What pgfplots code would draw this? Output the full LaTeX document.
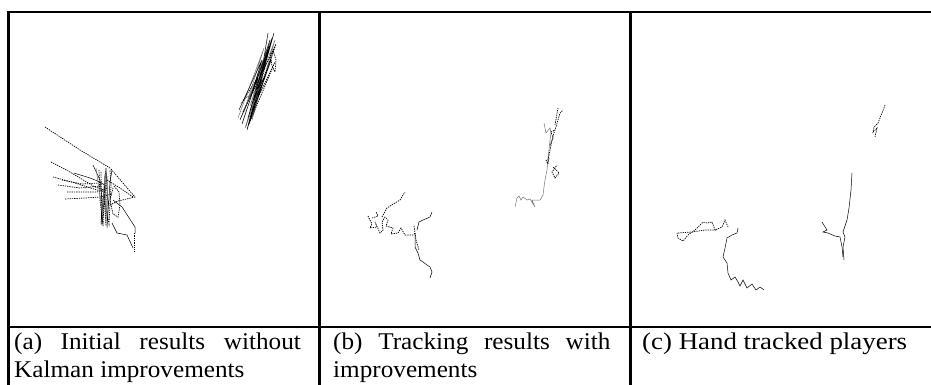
\documentclass[border=0pt]{standalone}
\usepackage{fontspec}
\setmainfont{Liberation Serif}
\usepackage{pgfplots}
\pgfplotsset{compat=1.18}
\begin{document}
\begin{tikzpicture}[x=1pt,y=1pt]
\path[use as bounding box] (0,0) rectangle (931,385);
\begin{axis}[at={(0,0)},anchor=south west, scale only axis, width=931pt, height=385pt,
  xmin=0,xmax=931,ymin=0,ymax=385, y dir=reverse, axis lines=none, clip=false,
  tr/.style={black, line width=0.5pt, mark=none},
  ds/.style={black, line width=0.7pt, dash pattern=on 1.3pt off 1pt, mark=none},
  gr/.style={black!55, line width=0.5pt, mark=none}]
% ---------------- panel (a) upper right cluster
\addplot[tr] coordinates {(242,124) (270,40) (248,118) (274,33) (252,112) (268,50) (246,126) (266,56) (240,120) (258,78) (254,96) (272,38) (256,100) (247,130) (262,70) (268,33)};
\addplot[gr] coordinates {(238,118) (264,48) (244,112) (270,42) (250,106) (275,40) (252,120) (262,80) (245,128) (260,88) (243,100)};
\addplot[ds] coordinates {(243,112) (276,44) (249,124) (275,62) (252,110) (273,52) (258,96) (271,60) (250,120) (266,64) (241,104)};
\addplot[ds] coordinates {(273,50) (276,60) (275,72) (272,66) (270,52)};
\addplot[tr] coordinates {(239,110) (262,60) (251,96) (269,46) (256,90) (264,78)};
% ---------------- panel (a) lower left cluster
\addplot[ds] coordinates {(45,127) (80,150) (110,168) (135,197) (118,201) (110,205)};
\addplot[ds] coordinates {(51,162) (70,172) (95,187) (104,190)};
\addplot[ds] coordinates {(53,177) (75,183) (97,190) (106,192)};
\addplot[ds] coordinates {(65,199) (85,198) (100,197) (112,194)};
\addplot[ds] coordinates {(67,192) (85,192) (97,192) (108,188)};
\addplot[ds] coordinates {(58,185) (80,188) (100,186)};
\addplot[ds] coordinates {(62,180) (82,184) (99,183)};
\addplot[tr] coordinates {(74,173) (90,178) (100,182) (106,186)};
\addplot[tr] coordinates {(93,165) (100,180) (102,200) (101,225) (104,190) (106,168) (108,205) (107,228) (110,182) (112,170)};
\addplot[ds] coordinates {(99,170) (100,200) (103,226) (105,176) (104,198) (109,224) (111,186) (110,170)};
\addplot[ds] coordinates {(101,172) (102,224) (106,180) (106,226) (104,196)};
\addplot[gr] coordinates {(96,168) (102,210) (105,174) (106,222) (108,176)};
\addplot[ds] coordinates {(114,186) (119,192) (120,205) (118,217) (113,214) (110,200) (113,188)};
\addplot[ds] coordinates {(107,180) (120,188) (133,197)};
\addplot[tr] coordinates {(113,200) (122,207) (135,227) (135,233)};
\addplot[ds] coordinates {(134,233) (134,252)};
\addplot[tr] coordinates {(112,223) (117,233) (127,235) (133,248)};
% ---------------- panel (b) right cluster
\addplot[gr] coordinates {(515,207) (517,198) (519,196) (521,200) (523,197) (527,200) (530,199) (535,207) (532,200) (540,200) (543,195) (544,187) (545,180) (547,170) (548,158) (549,150) (550,140) (551,133) (550,128) (546,133) (544,123)};
\addplot[ds] coordinates {(548,160) (550,150) (552,140) (554,133) (556,127) (558,120) (560,113) (563,110)};
\addplot[ds] coordinates {(555,125) (558,108)};
\addplot[ds] coordinates {(553,167) (559,173) (555,178) (552,172) (557,165)};
\addplot[ds] coordinates {(546,160) (548,164) (549,158)};
\addplot[ds] coordinates {(550,145) (553,138) (551,132) (555,130)};
% ---------------- panel (b) left cluster
\addplot[ds] coordinates {(368,216) (372,224) (370,228) (377,227) (375,222) (380,233) (383,230) (382,222) (385,217) (388,220) (386,226) (393,228) (391,234) (398,233) (401,228) (405,235) (413,235) (415,233)};
\addplot[ds] coordinates {(382,217) (387,208) (395,203) (400,200) (403,195) (405,192)};
\addplot[ds] coordinates {(372,218) (378,216) (376,212)};
\addplot[tr] coordinates {(415,233) (415,247) (418,253) (420,260) (423,262) (427,265) (430,267) (432,272) (430,278)};
\addplot[tr] coordinates {(417,230) (419,222) (423,220) (430,217) (432,212)};
\addplot[ds] coordinates {(414,226) (416,240) (419,250)};
% ---------------- panel (c)
\addplot[ds] coordinates {(885,105) (882,113) (878,123) (874,127) (873,132) (877,128) (875,137)};
\addplot[tr] coordinates {(852,173) (851,190) (849,208) (847,220) (843,232) (845,237) (843,247) (844,260)};
\addplot[tr] coordinates {(822,222) (827,230) (823,232) (828,233) (835,236) (840,237) (842,247) (843,257)};
\addplot[ds] coordinates {(677,233) (678,238) (683,241) (688,235) (695,230) (703,222) (707,223) (712,222) (715,230) (722,227) (725,220) (728,227)};
\addplot[ds] coordinates {(678,233) (692,232) (705,230) (717,230)};
\addplot[tr] coordinates {(738,228) (737,233) (732,235) (727,238) (725,248) (723,257) (727,263) (728,273) (731,280) (735,277) (738,282) (740,286) (743,280) (747,288) (752,284) (756,290) (760,287) (764,290)};
% ---------------- table rules
\draw[line width=2.5pt] (axis cs:7,12) -- (axis cs:931,12);
\draw[line width=3pt] (axis cs:8.5,11) -- (axis cs:8.5,385);
\draw[line width=3pt] (axis cs:319.5,11) -- (axis cs:319.5,385);
\draw[line width=3pt] (axis cs:630,11) -- (axis cs:630,385);
\draw[line width=2pt] (axis cs:7,327) -- (axis cs:931,327);
% ---------------- captions
\node[anchor=north west, inner sep=0pt, font=\fontsize{24}{28}\selectfont] at (axis cs:14,333) {\scalebox{1.05}[1]{\parbox[t]{273pt}{(a) Initial results without\linebreak Kalman improvements}}};
\node[anchor=north west, inner sep=0pt, font=\fontsize{24}{28}\selectfont] at (axis cs:333,333) {\scalebox{1.05}[1]{\parbox[t]{264pt}{(b) Tracking results with\linebreak improvements}}};
\node[anchor=north west, inner sep=0pt, font=\fontsize{24}{28}\selectfont] at (axis cs:642,333) {\scalebox{1.12}[1]{(c) Hand tracked players}};
\end{axis}
\end{tikzpicture}
\end{document}
